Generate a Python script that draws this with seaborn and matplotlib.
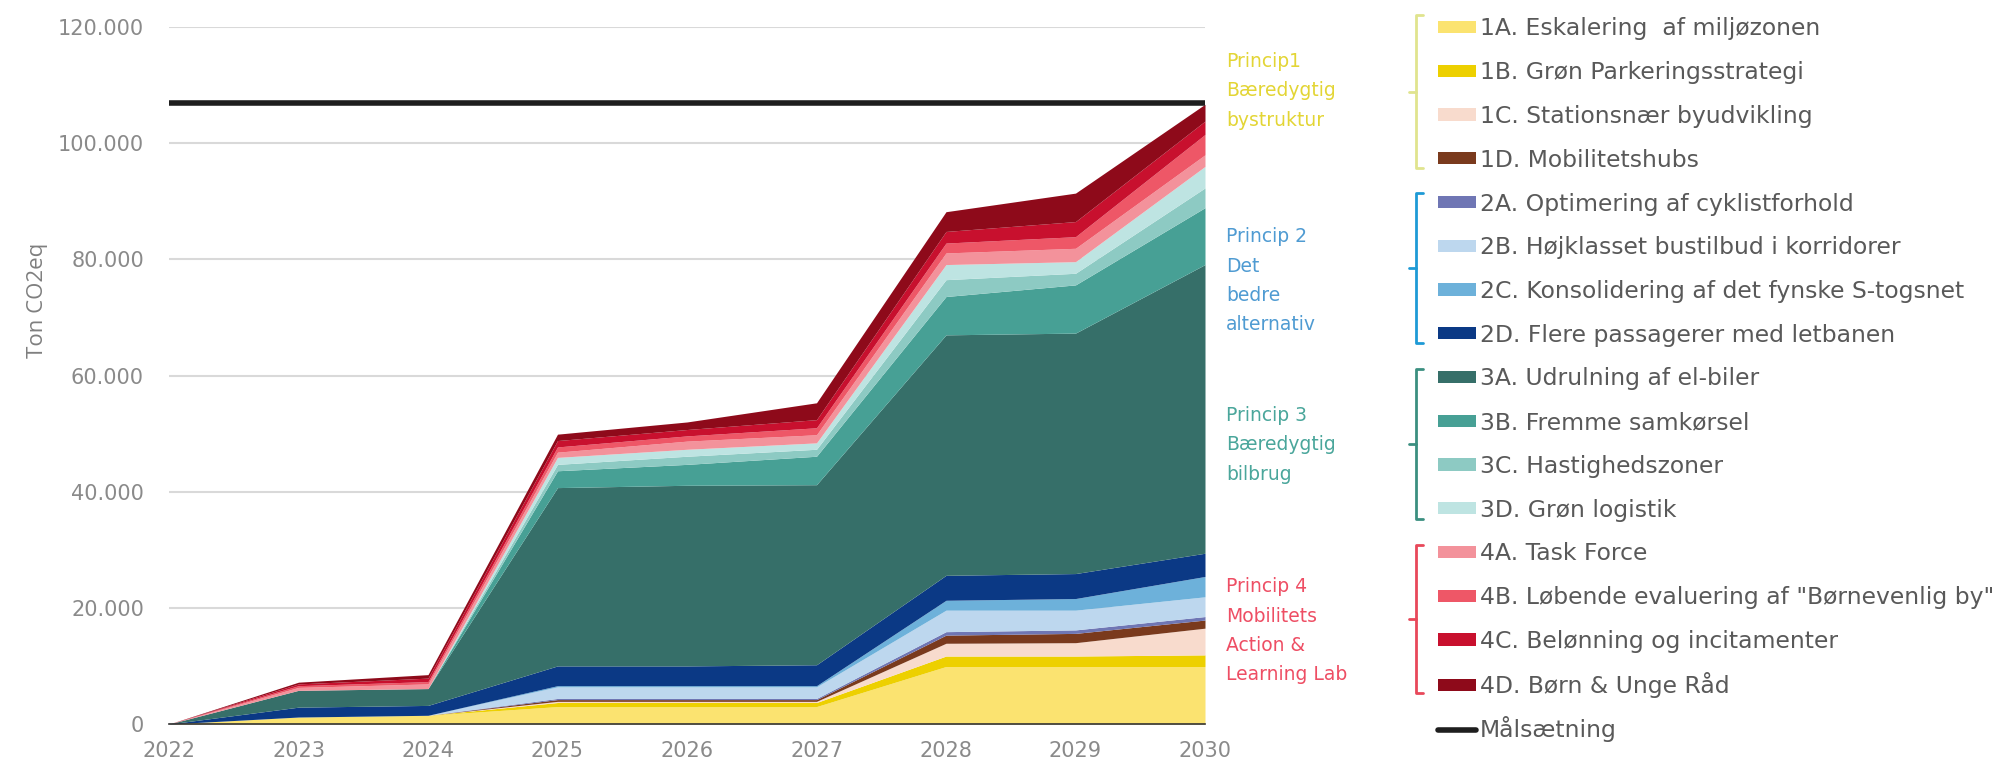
import matplotlib
matplotlib.use("Agg")
import matplotlib.pyplot as plt
import seaborn as sns
from matplotlib.patches import Patch
from matplotlib.lines import Line2D
from matplotlib.ticker import FuncFormatter

# ---------------- data ----------------
years = [2022, 2023, 2024, 2025, 2026, 2027, 2028, 2029, 2030]

s1A = [0, 1200, 1500, 3000, 3000, 3000, 9900, 9900, 9900]
s1B = [0, 0, 0, 700, 700, 700, 1800, 1800, 2000]
s1C = [0, 0, 0, 200, 200, 200, 2200, 2300, 4600]
s1D = [0, 0, 0, 300, 300, 300, 1400, 1600, 1400]
s2A = [0, 0, 0, 200, 200, 200, 600, 600, 600]
s2B = [0, 0, 0, 2000, 2000, 2000, 3700, 3400, 3400]
s2C = [0, 0, 0, 200, 200, 200, 1700, 2000, 3500]
s2D = [0, 1700, 1700, 3400, 3400, 3600, 4300, 4300, 4000]
s3A = [0, 2900, 2900, 30700, 31100, 31000, 41400, 41400, 49700]
s3B = [0, 0, 0, 2900, 3600, 4900, 6600, 8300, 9800]
s3C = [0, 0, 0, 1100, 1400, 1200, 2900, 2000, 3400]
s3D = [0, 0, 0, 1200, 1200, 1100, 2600, 2000, 3700]
s4A = [0, 500, 800, 900, 1400, 1400, 2000, 2300, 2000]
s4B = [0, 300, 400, 900, 900, 1200, 1700, 2000, 3500]
s4C = [0, 300, 600, 1100, 1100, 1400, 2000, 2600, 2300]
s4D = [0, 300, 600, 1100, 1300, 2900, 3400, 4900, 2900]
target = [107000, 107000, 107000, 107000, 107000, 107000, 107000, 107000, 107000]

labels = [
    "1A. Eskalering  af miljøzonen",
    "1B. Grøn Parkeringsstrategi",
    "1C. Stationsnær byudvikling",
    "1D. Mobilitetshubs",
    "2A. Optimering af cyklistforhold",
    "2B. Højklasset bustilbud i korridorer",
    "2C. Konsolidering af det fynske S-togsnet",
    "2D. Flere passagerer med letbanen",
    "3A. Udrulning af el-biler",
    "3B. Fremme samkørsel",
    "3C. Hastighedszoner",
    "3D. Grøn logistik",
    "4A. Task Force",
    "4B. Løbende evaluering af \"Børnevenlig by\"",
    "4C. Belønning og incitamenter",
    "4D. Børn & Unge Råd",
]
target_label = "Målsætning"

principles = [
    "Princip1\nBæredygtig\nbystruktur",
    "Princip 2\nDet\nbedre\nalternativ",
    "Princip 3\nBæredygtig\nbilbrug",
    "Princip 4\nMobilitets\nAction &\nLearning Lab",
]

yticks = [0, 20000, 40000, 60000, 80000, 100000, 120000]

# ---------------- styling ----------------
colors = ["#FBE370", "#EDD000", "#F8DBCD", "#7A3A1D",
          "#6F76B4", "#BDD7EE", "#6DB1DA", "#0B3985",
          "#366F69", "#47A095", "#8DCAC3", "#BEE4E2",
          "#F3929B", "#EE5767", "#C8102E", "#8E0A1A"]
principle_colors = ["#E3D535", "#4F9BD2", "#4AA69B", "#EE4E64"]
bracket_colors = ["#E0E48E", "#1E9AD6", "#3B8F80", "#E8485A"]

sns.set_theme(style="white")
plt.rcParams["font.family"] = ["DejaVu Sans"]

W, H = 1995, 773
fig = plt.figure(figsize=(W / 100, H / 100), dpi=100)
ax = fig.add_axes([169 / W, 1 - 724 / H, (1205 - 169) / W, (724 - 27) / H])

series = [s1A, s1B, s1C, s1D, s2A, s2B, s2C, s2D,
          s3A, s3B, s3C, s3D, s4A, s4B, s4C, s4D]
ax.stackplot(years, *series, colors=colors, linewidth=0, zorder=2)
sns.lineplot(x=years, y=target, color="#1E1E1E", linewidth=4, ax=ax, zorder=3)

ax.set_xlim(2022, 2030)
ax.set_ylim(0, 120000)
ax.set_yticks(yticks)
ax.set_xticks(years)
ax.yaxis.set_major_formatter(FuncFormatter(lambda v, p: f"{int(v):,}".replace(",", ".")))
ax.grid(axis="y", color="#D9D9D9", linewidth=1.5)
ax.grid(axis="x", visible=False)
ax.set_axisbelow(True)
for s in ["top", "right", "left"]:
    ax.spines[s].set_visible(False)
ax.spines["bottom"].set_color("#333333")
ax.spines["bottom"].set_linewidth(1.2)
ax.spines["bottom"].set_zorder(4)
ax.tick_params(axis="both", length=0, labelsize=15, labelcolor="#8A8A8A")
ax.tick_params(axis="y", pad=18)
ax.tick_params(axis="x", pad=12)
ax.set_xlabel("")
ax.set_ylabel("")

fig.text(38 / W, 1 - 300 / H, "Ton CO2eq", rotation=90, ha="center", va="center",
         fontsize=16, color="#7F7F7F", family="Open Sans")

# principle labels
p_tops = [52, 227, 406, 577]
for txt, col, yt in zip(principles, principle_colors, p_tops):
    fig.text(1226 / W, 1 - yt / H, txt, ha="left", va="top", fontsize=13.5,
             color=col, linespacing=1.7)

# brackets
br = [(15, 168), (193, 343), (369, 519), (545, 693)]
bx = 1416
for (y0, y1), col in zip(br, bracket_colors):
    ym = (y0 + y1) / 2
    xs = [bx + 7, bx, bx, bx + 7]
    ys = [y0, y0, y1, y1]
    fig.add_artist(Line2D([x / W for x in xs], [1 - y / H for y in ys],
                          color=col, linewidth=2.0, transform=fig.transFigure))
    fig.add_artist(Line2D([(bx - 7) / W, bx / W], [1 - ym / H, 1 - ym / H],
                          color=col, linewidth=2.0, transform=fig.transFigure))

# legend: one entry per row so every row sits at the same pitch
handles = [Patch(facecolor=c, edgecolor="none") for c in colors]
handles.append(Line2D([0], [0], color="#1E1E1E", linewidth=4))
all_labels = labels + [target_label]
fs = 16.9
em = fs * 100 / 72
for i, (h, lab) in enumerate(zip(handles, all_labels)):
    yc = 29 + i * 43.75
    leg = fig.legend([h], [lab], loc="center left",
                     bbox_to_anchor=(1438 / W, 1 - yc / H), frameon=False,
                     fontsize=fs, handlelength=38 / em, handleheight=10 / em,
                     handletextpad=4 / em, borderpad=0, borderaxespad=0)
    for t in leg.get_texts():
        t.set_color("#595959")

fig.savefig("out.png", dpi=100)
